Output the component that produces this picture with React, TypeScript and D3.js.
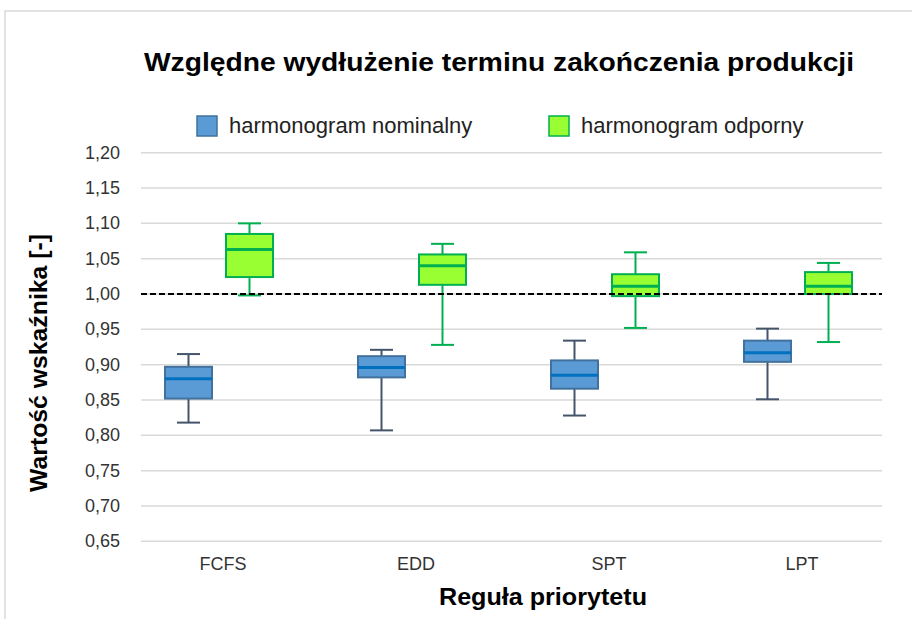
import React, { useRef, useEffect } from "react";
import * as d3 from "d3";

const categories = ["FCFS", "EDD", "SPT", "LPT"];
const seriesNames = ["harmonogram nominalny", "harmonogram odporny"];
// [min, q1, median, q3, max] per category
const nominal = [
  [0.818, 0.852, 0.88, 0.897, 0.915],
  [0.807, 0.882, 0.896, 0.912, 0.921],
  [0.828, 0.866, 0.885, 0.906, 0.934],
  [0.851, 0.904, 0.917, 0.934, 0.951],
];
const robust = [
  [0.998, 1.024, 1.063, 1.085, 1.1],
  [0.928, 1.013, 1.04, 1.056, 1.071],
  [0.952, 0.997, 1.011, 1.028, 1.059],
  [0.932, 1.0, 1.011, 1.031, 1.044],
];
const yTicks = [0.65, 0.7, 0.75, 0.8, 0.85, 0.9, 0.95, 1.0, 1.05, 1.1, 1.15, 1.2];
const refValue = 1.0;

const W = 912;
const H = 619;
const font = "'Liberation Sans', Arial, sans-serif";

const styles = [
  { fill: "#5b9bd5", stroke: "#41719c", median: "#0070c0", whisker: "#44546a" },
  { fill: "#99ff33", stroke: "#00b050", median: "#00b050", whisker: "#00b050" },
];

export default function App() {
  const ref = useRef<SVGSVGElement>(null);

  useEffect(() => {
    const svg = d3.select(ref.current);
    svg.selectAll("*").remove();

    const left = 141, right = 882;
    const y = d3.scaleLinear().domain([0.65, 1.2]).range([541.3, 152.7]);
    const x = d3.scalePoint().domain(categories).range([219, 798]);
    const offset = 30.5;
    const boxW = 47;
    const capW = 23;

    // outer frame
    svg.append("path")
      .attr("d", `M5,${H} L5,11 L${W},11`)
      .attr("fill", "none")
      .attr("stroke", "#d9d9d9")
      .attr("stroke-width", 1.5);

    // title
    svg.append("text")
      .attr("x", 499).attr("y", 71)
      .attr("text-anchor", "middle")
      .attr("font-family", font)
      .attr("font-weight", "bold")
      .attr("font-size", 25)
      .attr("textLength", 710)
      .attr("lengthAdjust", "spacingAndGlyphs")
      .attr("fill", "#000")
      .text("Względne wydłużenie terminu zakończenia produkcji");

    // legend
    const legendX = [197, 549];
    seriesNames.forEach((name, i) => {
      svg.append("rect")
        .attr("x", legendX[i]).attr("y", 116)
        .attr("width", 20).attr("height", 20)
        .attr("fill", styles[i].fill)
        .attr("stroke", styles[i].stroke)
        .attr("stroke-width", 1.5);
      svg.append("text")
        .attr("x", legendX[i] + 32).attr("y", 133)
        .attr("font-family", font)
        .attr("font-size", 22)
        .attr("fill", "#222")
        .text(name);
    });

    // gridlines
    svg.append("g")
      .selectAll("line")
      .data(yTicks)
      .join("line")
      .attr("x1", left).attr("x2", right)
      .attr("y1", (d) => y(d)).attr("y2", (d) => y(d))
      .attr("stroke", "#d9d9d9")
      .attr("stroke-width", 1.5);

    // y tick labels
    svg.append("g")
      .selectAll("text")
      .data(yTicks)
      .join("text")
      .attr("x", 120)
      .attr("y", (d) => y(d) + 6)
      .attr("text-anchor", "end")
      .attr("font-family", font)
      .attr("font-size", 18)
      .attr("fill", "#333")
      .text((d) => d3.format(".2f")(d).replace(".", ","));

    // x labels
    svg.append("g")
      .selectAll("text")
      .data(categories)
      .join("text")
      .attr("x", (d) => x(d)! + 4)
      .attr("y", 570)
      .attr("text-anchor", "middle")
      .attr("font-family", font)
      .attr("font-size", 18)
      .attr("fill", "#333")
      .text((d) => d);

    // axis titles
    svg.append("text")
      .attr("x", 543).attr("y", 605)
      .attr("text-anchor", "middle")
      .attr("font-family", font)
      .attr("font-weight", "bold")
      .attr("font-size", 24)
      .attr("textLength", 208)
      .attr("lengthAdjust", "spacingAndGlyphs")
      .attr("fill", "#000")
      .text("Reguła priorytetu");

    svg.append("text")
      .attr("transform", "translate(47,363) rotate(-90)")
      .attr("text-anchor", "middle")
      .attr("font-family", font)
      .attr("font-weight", "bold")
      .attr("font-size", 24)
      .attr("textLength", 258)
      .attr("lengthAdjust", "spacingAndGlyphs")
      .attr("fill", "#000")
      .text("Wartość wskaźnika [-]");

    // boxes
    [nominal, robust].forEach((series, si) => {
      const st = styles[si];
      const g = svg.append("g");
      series.forEach((s, ci) => {
        const cx = x(categories[ci])! + (si === 0 ? -offset : offset);
        const [mn, q1, med, q3, mx] = s;
        g.append("line")
          .attr("x1", cx).attr("x2", cx)
          .attr("y1", y(mx)).attr("y2", y(q3))
          .attr("stroke", st.whisker).attr("stroke-width", 2);
        g.append("line")
          .attr("x1", cx).attr("x2", cx)
          .attr("y1", y(q1)).attr("y2", y(mn))
          .attr("stroke", st.whisker).attr("stroke-width", 2);
        [mn, mx].forEach((v) => {
          g.append("line")
            .attr("x1", cx - capW / 2).attr("x2", cx + capW / 2)
            .attr("y1", y(v)).attr("y2", y(v))
            .attr("stroke", st.whisker).attr("stroke-width", 2);
        });
        g.append("rect")
          .attr("x", cx - boxW / 2).attr("width", boxW)
          .attr("y", y(q3)).attr("height", y(q1) - y(q3))
          .attr("fill", st.fill)
          .attr("stroke", st.stroke)
          .attr("stroke-width", 2);
        g.append("line")
          .attr("x1", cx - boxW / 2).attr("x2", cx + boxW / 2)
          .attr("y1", y(med)).attr("y2", y(med))
          .attr("stroke", st.median).attr("stroke-width", 3);
      });
    });

    // reference line at 1,00
    svg.append("line")
      .attr("x1", left).attr("x2", right)
      .attr("y1", y(refValue)).attr("y2", y(refValue))
      .attr("stroke", "#000")
      .attr("stroke-width", 2)
      .attr("stroke-dasharray", "6,3");
  }, []);

  return (
    <div style={{ position: "absolute", left: 0, top: 0, width: W, height: H, background: "#fff" }}>
      <svg ref={ref} width={W} height={H}></svg>
    </div>
  );
}
